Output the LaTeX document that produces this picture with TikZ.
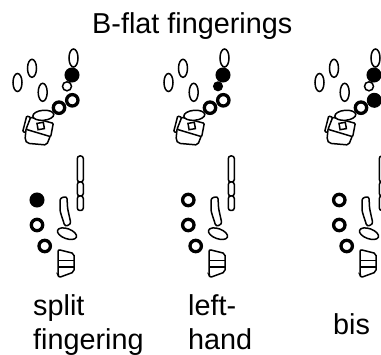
\documentclass[tikz,border=0pt]{standalone}
\usepackage{fontspec}
\setmainfont{Liberation Sans}
\tikzset{
    hole/.style={draw, line width=1.5pt, fill=white},
    ring/.style={draw, line width=3.3pt, fill=white},
    closed/.style={draw, line width=1pt, fill=black},
    label/.style={font=\fontsize{28.8}{34.3}\selectfont, anchor=base west, align=left, inner sep=0pt},
}
\begin{document}
\begin{tikzpicture}[x=1pt, y=-1pt]
    \useasboundingbox (0,0) rectangle (381,355);
    % Title
    \node[label] (title) at (92,33.3) {B-flat fingerings};

    % Parts shared by the three fingerings
    \foreach \col in {0,151,302} {
        \begin{scope}[xshift=\col pt]
            % Upper ovals
            \draw[hole] (17.5,82.5) ellipse (4.5 and 9);
            \draw[hole] (32,68.3) ellipse (4.5 and 9);
            \draw[hole] (42.7,92.3) ellipse (4.5 and 9);
            \draw[hole] (73.5,58) ellipse (4.5 and 9);
            % Palm keys
            \draw[hole, rounded corners=1pt] (26.7,116) -- (22.7,131.7) -- (26.7,132.7) -- (30.7,117.3) -- cycle;
            \draw[hole, rounded corners=2pt] (26,129.3) -- (25,140) -- (27.3,143.3) -- (46.7,145) -- (50,136.7);
            \draw[hole, rounded corners=1pt] (30.7,117.3) -- (53.3,123.3) -- (50.7,136.7) -- (26,129.3) -- cycle;
            \draw[hole, rotate around={10:(40.7,126)}] (37.5,122.8) rectangle (43.9,129.2);
            \draw[hole, rotate around={5:(43.3,115.3)}] (43.3,115.3) ellipse (10.5 and 5);
            % Lower keys
            \draw[hole, rounded corners=2.5pt] (77.3,156) rectangle (83.3,182);
            \draw[hole, rounded corners=2.5pt] (77.3,182) rectangle (83.3,196);
            \draw[hole, rounded corners=2.5pt] (77.3,196) rectangle (83.3,210.5);
            \draw[hole, rounded corners=2.5pt] (60,198) -- (67,196.5) -- (67.5,208) -- (71,224)
                -- (65,226.5) -- (60,211) -- cycle;
            \draw[hole, rotate around={-20:(67,233.7)}] (67,233.7) ellipse (10 and 5);
            \draw[hole, rounded corners=2pt] (58,249.5) -- (74,253.5) -- (74,272) -- (59,277.5) -- (58,275) -- cycle;
            \draw[hole] (58,260.5) -- (74,260.5);
            \draw[hole] (58,267) -- (74,267);
        \end{scope}
    }

    % Split fingering
    \draw[closed] (72,75) circle (7);
    \draw[hole] (67,86.3) circle (4.5);
    \draw[ring] (59,107.7) circle (5.7);
    \draw[ring] (72.3,100.3) circle (5.7);
    \draw[closed] (37,200) circle (7);
    \draw[ring] (37,225) circle (5.7);
    \draw[ring] (44.7,246) circle (5.7);

    % Left-hand
    \draw[closed] (223,75) circle (7);
    \draw[closed] (218,86.3) circle (4.5);
    \draw[ring] (210,107.7) circle (5.7);
    \draw[ring] (223.3,100.3) circle (5.7);
    \draw[ring] (188.3,200) circle (5.7);
    \draw[ring] (188.3,225) circle (5.7);
    \draw[ring] (195.7,246) circle (5.7);

    % Bis
    \draw[closed] (374,75) circle (7);
    \draw[hole] (369,86.3) circle (4.5);
    \draw[ring] (361,107.7) circle (5.7);
    \draw[closed] (374.3,100.3) circle (7);
    \draw[ring] (339.3,200) circle (5.7);
    \draw[ring] (339.3,225) circle (5.7);
    \draw[ring] (346.7,246) circle (5.7);

    % Labels
    \node[label] (split) at (33,350) {split\\fingering};
    \node[label] (left) at (188,350) {left-\\hand};
    \node[label] (bis) at (333,335) {bis};
\end{tikzpicture}
\end{document}
